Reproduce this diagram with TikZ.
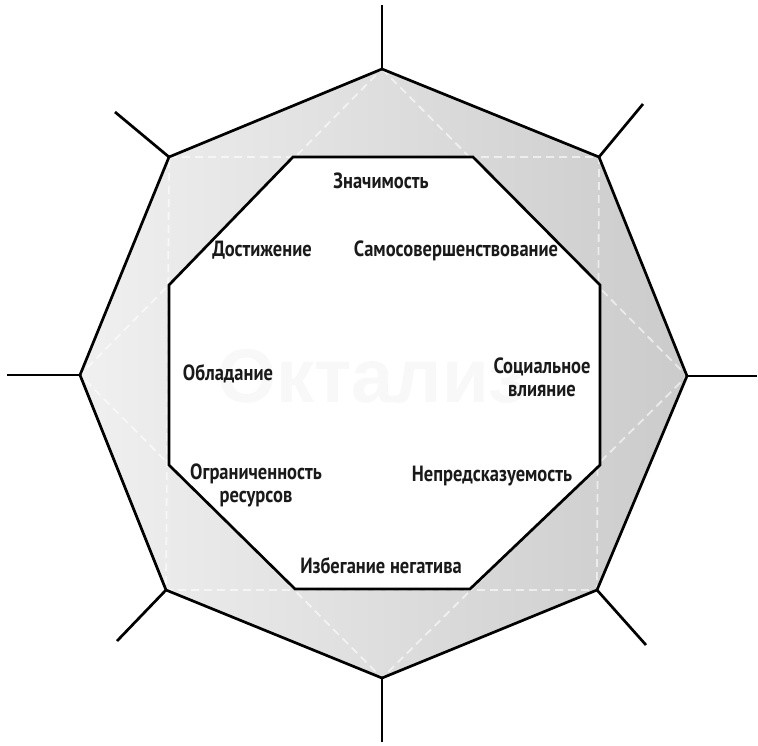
\documentclass[tikz,border=0pt]{standalone}
\usepackage{fontspec}
\setmainfont{PT Sans}
\newfontfamily\labfont[FakeStretch=0.84]{PT Sans}
\newfontfamily\wmfont{Liberation Sans}
\definecolor{shadowgray}{HTML}{DEDEDE}
\definecolor{lightfill}{HTML}{F0F0F0}
\definecolor{darkfill}{HTML}{CBCBCB}
\definecolor{wmgray}{HTML}{F8F8F8}
\definecolor{txt}{HTML}{1A1A1A}
\tikzset{
  edge/.style={line width=2.7pt, black, line join=miter},
  spoke/.style={line width=2.7pt, black},
  guide/.style={white, line width=1.8pt, dash pattern=on 8pt off 5pt, opacity=0.6},
  lab/.style={font=\labfont\bfseries\fontsize{22}{23}\selectfont, text=txt, align=center, inner sep=0pt},
}
\begin{document}
\begin{tikzpicture}[x=1pt,y=-1pt]
\useasboundingbox (0,0) rectangle (758,745);
% outer vertices
\coordinate (T) at (382,69);
\coordinate (TR) at (599,157);
\coordinate (R) at (687,376);
\coordinate (BR) at (597,590);
\coordinate (B) at (382,678);
\coordinate (BL) at (166,590);
\coordinate (L) at (80,375);
\coordinate (TL) at (169,157);
% spoke ends
\coordinate (eT) at (382,5);
\coordinate (eTR) at (643,104);
\coordinate (eR) at (757,376);
\coordinate (eBR) at (646,645);
\coordinate (eB) at (382,742);
\coordinate (eBL) at (117,641);
\coordinate (eL) at (7,375);
\coordinate (eTL) at (115,112);
% inner vertices
\coordinate (i1) at (293,157);
\coordinate (i2) at (473,157);
\coordinate (i3) at (600,285);
\coordinate (i4) at (600,465);
\coordinate (i5) at (470,589);
\coordinate (i6) at (295,589);
\coordinate (i7) at (169,465);
\coordinate (i8) at (169,285);
% shadow
\fill[shadowgray, shift={(4pt,-4pt)}] (T) -- (TR) -- (R) -- (BR) -- (B) -- (BL) -- (L) -- (TL) -- cycle;
% outer octagon
\shade[left color=lightfill, right color=darkfill] (T) -- (TR) -- (R) -- (BR) -- (B) -- (BL) -- (L) -- (TL) -- cycle;
% dashed guides
\draw[guide] (TL) -- (TR) -- (BR) -- (BL) -- cycle;
\draw[guide] (T) -- (R) -- (B) -- (L) -- cycle;
\draw[edge] (T) -- (TR) -- (R) -- (BR) -- (B) -- (BL) -- (L) -- (TL) -- cycle;
% inner octagon
\fill[white] (i1) -- (i2) -- (i3) -- (i4) -- (i5) -- (i6) -- (i7) -- (i8) -- cycle;
\node[font=\wmfont\bfseries\fontsize{76}{76}\selectfont, text=wmgray, anchor=base, inner sep=0pt] (wm) at (372,402) {Октализ};
\draw[edge] (i1) -- (i2) -- (i3) -- (i4) -- (i5) -- (i6) -- (i7) -- (i8) -- cycle;
% spokes
\draw[spoke] (T) -- (eT);
\draw[spoke] (TR) -- (eTR);
\draw[spoke] (R) -- (eR);
\draw[spoke] (BR) -- (eBR);
\draw[spoke] (B) -- (eB);
\draw[spoke] (BL) -- (eBL);
\draw[spoke] (L) -- (eL);
\draw[spoke] (TL) -- (eTL);
% labels
\node[lab] (n1) at (381,181) {Значимость};
\node[lab] (n2) at (262,250) {Достижение};
\node[lab] (n3) at (456,251) {Самосовершенствование};
\node[lab] (n4) at (228,374) {Обладание};
\node[lab] (n5) at (542,377) {Социальное\\влияние};
\node[lab] (n6) at (256,485) {Ограниченность\\ресурсов};
\node[lab] (n7) at (492,476) {Непредсказуемость};
\node[lab] (n8) at (381,566) {Избегание негатива};
\end{tikzpicture}
\end{document}
